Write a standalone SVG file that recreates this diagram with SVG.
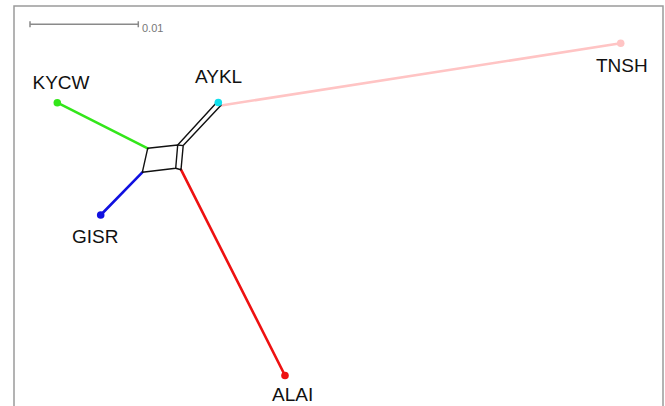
<svg xmlns="http://www.w3.org/2000/svg" width="665" height="406" viewBox="0 0 665 406">
<style>
.lbl{font-family:"Liberation Sans",Arial,sans-serif;font-size:19px;fill:#111}
.net{fill:none;stroke:#111;stroke-width:1.4;stroke-linejoin:round}
.br{fill:none;stroke-width:2.6;stroke-linecap:round}
.scale{stroke:#8a8a8a;stroke-width:1.5;fill:none}
</style>
<rect width="665" height="406" fill="#fff"/>
<rect x="14" y="6" width="649" height="420" fill="none" stroke="#9a9a9a" stroke-width="1.5"/>
<g id="scale-bar">
<path class="scale" d="M30 24.3H138.3M30 21.3V27.3M138.3 21.3V27.3"/>
<text x="142" y="32.3" font-family="Liberation Sans,Arial,sans-serif" font-size="11" fill="#777">0.01</text>
</g>
<g id="connectors">
<line class="br" x1="147.7" y1="148.3" x2="57.3" y2="102.7" stroke="#33e61a"/>
<line class="br" x1="142.3" y1="172.3" x2="100.7" y2="215" stroke="#1010e0"/>
<line class="br" x1="181" y1="169.7" x2="285" y2="375.5" stroke="#ee1111"/>
<line class="br" x1="221" y1="105.5" x2="620.7" y2="43.3" stroke="#ffc4c4"/>
<path class="net" d="M147.7 148.3L142.3 172.3L175.7 168.3L177.7 145Z"/>
<path class="net" d="M177.7 145L183.2 145.6L181 169.7L175.7 168.3"/>
<path class="net" d="M177.7 145L215.3 104L221 105.2L183.2 145.6"/>
</g>
<g id="KYCW"><circle cx="57.3" cy="102.7" r="3.8" fill="#33e61a"/><text class="lbl" x="32.5" y="89">KYCW</text></g>
<g id="GISR"><circle cx="100.7" cy="215" r="3.8" fill="#1010e0"/><text class="lbl" x="72" y="242.7">GISR</text></g>
<g id="AYKL"><circle cx="218.3" cy="102.5" r="3.8" fill="#10e0ee"/><text class="lbl" x="195" y="82.5">AYKL</text></g>
<g id="TNSH"><circle cx="620.7" cy="43.3" r="3.8" fill="#ffc4c4"/><text class="lbl" x="596" y="71.7">TNSH</text></g>
<g id="ALAI"><circle cx="285" cy="375.5" r="3.8" fill="#ee1111"/><text class="lbl" x="272" y="401">ALAI</text></g>
</svg>
